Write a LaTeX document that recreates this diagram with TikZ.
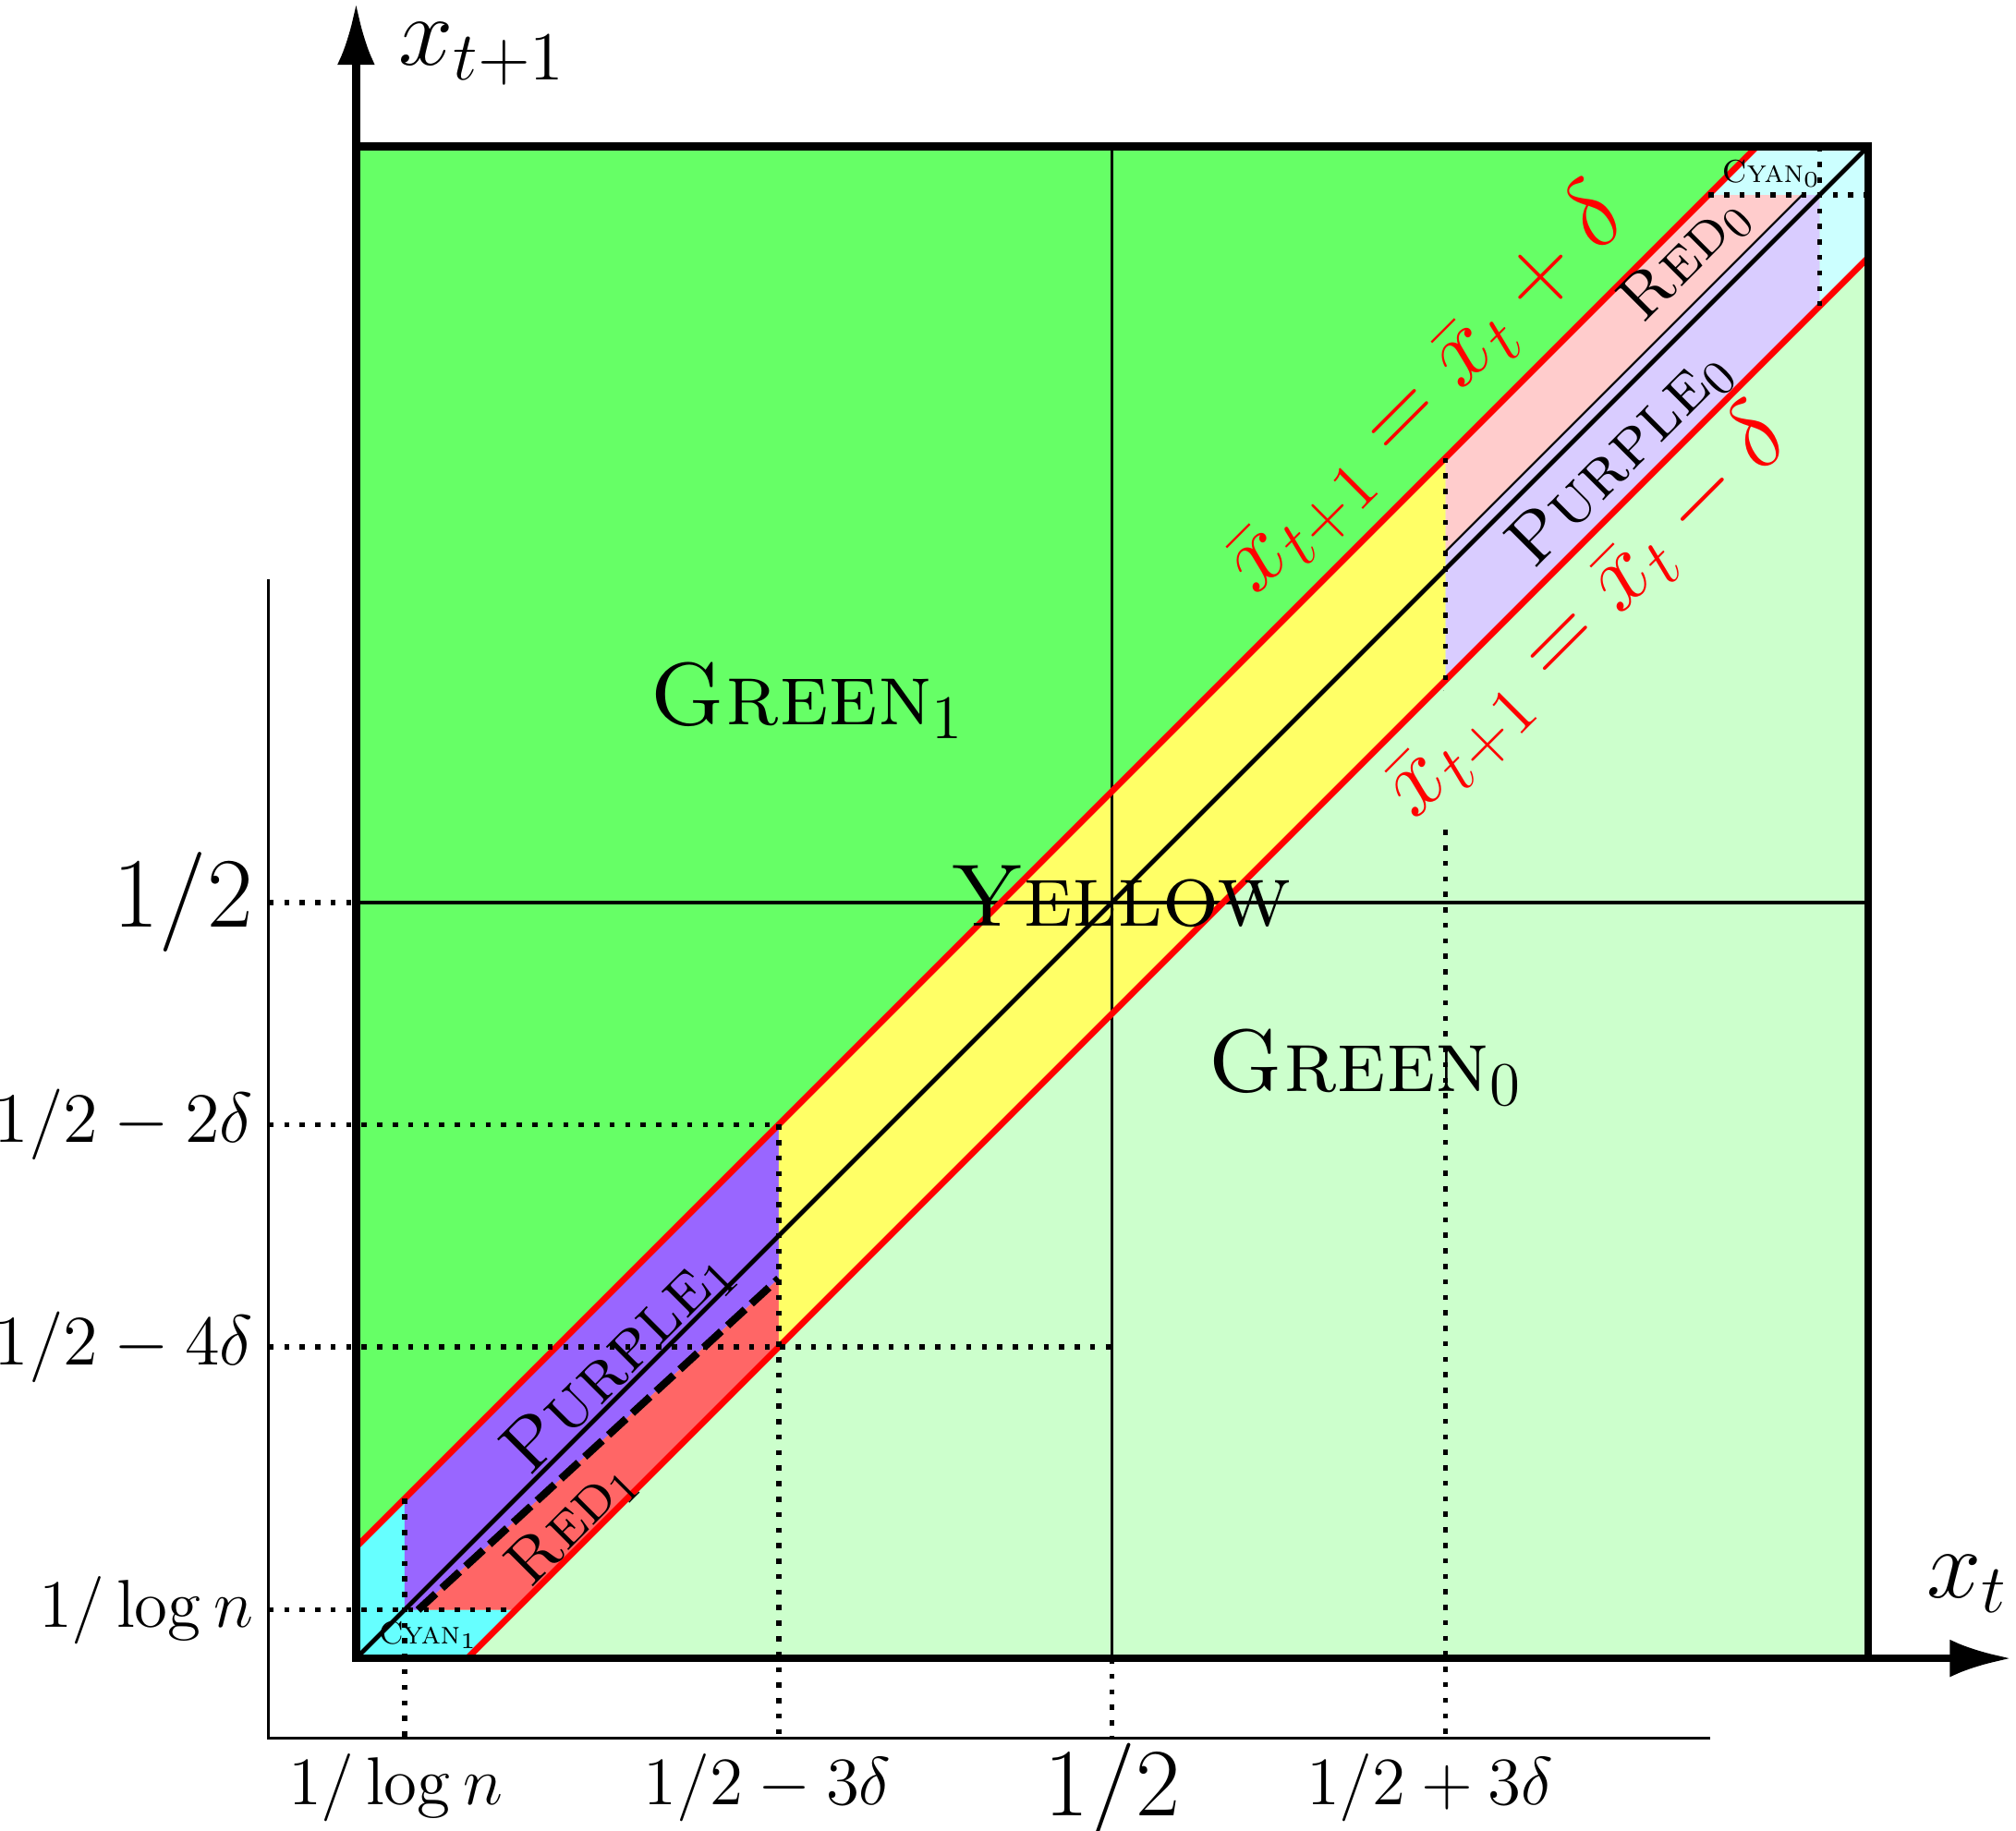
\RequirePackage{fix-cm}
\documentclass[tikz,border=0pt]{standalone}
\usetikzlibrary{arrows.meta}
\definecolor{GreenHi}{HTML}{66FF66}
\definecolor{GreenLo}{HTML}{CCFFCC}
\definecolor{YellowBand}{HTML}{FFFF66}
\definecolor{PurpleHi}{HTML}{9966FF}
\definecolor{PurpleLo}{HTML}{D9CCFF}
\definecolor{RedHi}{HTML}{FF6666}
\definecolor{RedLo}{HTML}{FFCCCC}
\definecolor{CyanHi}{HTML}{66FFFF}
\definecolor{CyanLo}{HTML}{CCFFFF}
\newcommand{\fsz}[1]{\fontsize{#1}{#1}\selectfont}
\tikzset{>={Latex[length=14pt,width=8.5pt]},
 border/.style={line width=1.8pt},
 midline/.style={line width=0.75pt},
 diag/.style={line width=1pt},
 thinsep/.style={line width=0.45pt},
 splitline/.style={line width=1.7pt,dash pattern=on 5.4pt off 1.9pt},
 bound/.style={red,line width=1.4pt},
 guide/.style={line width=1.15pt,dash pattern=on 1.15pt off 2.35pt},
 ruler/.style={line width=0.55pt},
 ticklab/.style={font=\fsz{15.3}},
 sidelab/.style={font=\fsz{16}},
 halflab/.style={font=\fsz{22.5}},
 axislab/.style={font=\fsz{22.2}},
 region/.style={font=\fsz{20}},
 bandlab/.style={font=\fsz{16.5},rotate=45},
 redlab/.style={font=\fsz{14.5},rotate=45},
 cornerlab/.style={font=\fsz{7.2},inner sep=0pt},
 eqlab/.style={red,font=\fsz{22},rotate=45}}
\begin{document}
\begin{tikzpicture}[x=12cm,y=12cm]
\def\dlt{0.0735}\def\lgn{0.032}\def\gp{0.0115}\def\rx{-0.0578}\def\ry{-0.0527}
\useasboundingbox (-0.2355,-0.1139) rectangle (1.0978,1.0969);
% corner points of the bands
\coordinate (O) at (0,0);
\coordinate (UL) at (0,\dlt);
\coordinate (UR) at (1-\dlt,1);
\coordinate (LL) at (\dlt,0);
\coordinate (LR) at (1,1-\dlt);
\coordinate (ca) at (\lgn,\lgn+\dlt);
\coordinate (cb) at (\lgn,\lgn);
\coordinate (cc) at (\lgn+\dlt,\lgn);
\coordinate (ds) at (0.041,\lgn);
\coordinate (de) at (0.5-3*\dlt,0.2512);
\coordinate (ya) at (0.5-3*\dlt,0.5-2*\dlt);
\coordinate (yb) at (0.5-3*\dlt,0.5-4*\dlt);
\coordinate (yc) at (0.5+3*\dlt,0.5+4*\dlt);
\coordinate (yd) at (0.5+3*\dlt,0.5+2*\dlt);
\coordinate (ta) at (0.5+3*\dlt,0.5+3*\dlt+\gp);
\coordinate (tb) at (1-\lgn-\gp,1-\lgn);
\coordinate (ka) at (1-\lgn-\dlt,1-\lgn);
\coordinate (kb) at (1-\lgn,1-\lgn);
\coordinate (kc) at (1-\lgn,1-\lgn-\dlt);
\coordinate (kd) at (1-\lgn,1);
\coordinate (ke) at (1,1-\lgn);
\coordinate (hm) at (0.5,0.5-4*\dlt);
% regions
\fill[GreenLo] (0,0) rectangle (1,1);
\fill[GreenHi] (UL)--(UR)--(0,1)--cycle;
\fill[CyanHi] (O)--(LL)--(cc)--(cb)--(ca)--(UL)--cycle;
\fill[PurpleHi] (ca)--(ya)--(de)--(ds)--(cb)--cycle;
\fill[RedHi] (ds)--(de)--(yb)--(cc)--cycle;
\fill[YellowBand] (ya)--(yc)--(yd)--(yb)--cycle;
\fill[RedLo] (yc)--(ka)--(tb)--(ta)--cycle;
\fill[PurpleLo] (ta)--(tb)--(kb)--(kc)--(yd)--cycle;
\fill[CyanLo] (ka)--(UR)--(1,1)--(LR)--(kc)--(kb)--cycle;
% lines
\draw[midline] (0.5,0)--(0.5,1) (0,0.5)--(1,0.5);
\draw[diag] (O)--(1,1);
\draw[thinsep] (ta)--(tb);
\draw[splitline] (ds)--(de);
\draw[bound] (UL)--(UR) (LL)--(LR);
% guides
\draw[guide] (\rx,0.5)--(0,0.5);
\draw[guide] (\rx,0.5-2*\dlt)--(ya);
\draw[guide] (\rx,0.5-4*\dlt)--(hm);
\draw[guide] (\rx,\lgn)--(cc);
\draw[guide] (ka)--(ke);
\draw[guide] (ca)--(\lgn,\ry);
\draw[guide] (ya)--(0.5-3*\dlt,\ry);
\draw[guide] (0.5,0)--(0.5,\ry);
\draw[guide] (yc)--(0.5+3*\dlt,\ry);
\draw[guide] (kd)--(kc);
\draw[ruler] (\rx,0.714)--(\rx,\ry)--(0.8954,\ry);
% frame and axes
\draw[border] (0,0) rectangle (1,1);
\draw[border,->] (O)--(0,1.095);
\draw[border,->] (O)--(1.095,0);
\node[axislab] (xn) at (0.0835,1.061) {$x_{t+1}$};
\node[axislab] (xc) at (1.0655,0.0493) {$x_t$};
% tick labels
\node[halflab,anchor=east] (lh) at (\rx,0.5) {$1/2$};
\node[sidelab,anchor=east] (l2) at (\rx,0.5-2*\dlt) {$1/2-2\delta$};
\node[sidelab,anchor=east] (l4) at (\rx,0.5-4*\dlt) {$1/2-4\delta$};
\node[ticklab,anchor=east] (ll) at (\rx,\lgn) {$1/\log n$};
\node[ticklab,anchor=north] (bl) at (\lgn-0.006,\ry) {$1/\log n$};
\node[ticklab,anchor=north] (b3) at (0.272,\ry) {$1/2-3\delta$};
\node[halflab,anchor=north,inner sep=1pt,font=\fsz{21.8}] (bh) at (0.5,\ry) {$1/2$};
\node[ticklab,anchor=north] (bp) at (0.71,\ry) {$1/2+3\delta$};
% region labels
\node[region] (g1) at (0.2985,0.6335) {\textsc{Green}$_1$};
\node[region] (g0) at (0.6675,0.391) {\textsc{Green}$_0$};
\node[region] (yl) at (0.506,0.504) {\textsc{Yellow}};
\node[bandlab] (p1) at (0.1735,0.1965) {\textsc{Purple}$_1$};
\node[redlab] (r1) at (0.1429,0.0893) {\textsc{Red}$_1$};
\node[bandlab,font=\fsz{16}] (p0) at (0.836,0.794) {\textsc{Purple}$_0$};
\node[redlab] (r0) at (0.879,0.9255) {\textsc{Red}$_0$};
\node[cornerlab] (c1) at (0.0476,0.0153) {\textsc{Cyan}$_1$};
\node[cornerlab] (c0) at (0.936,0.982) {\textsc{Cyan}$_0$};
\node[eqlab] (eu) at (0.708,0.8376) {$\bar{x}_{t+1}=\bar{x}_t+\delta$};
\node[eqlab,fill=GreenLo,inner sep=1pt] (el) at (0.8146,0.6905) {$\bar{x}_{t+1}=\bar{x}_t-\delta$};
\end{tikzpicture}
\end{document}
